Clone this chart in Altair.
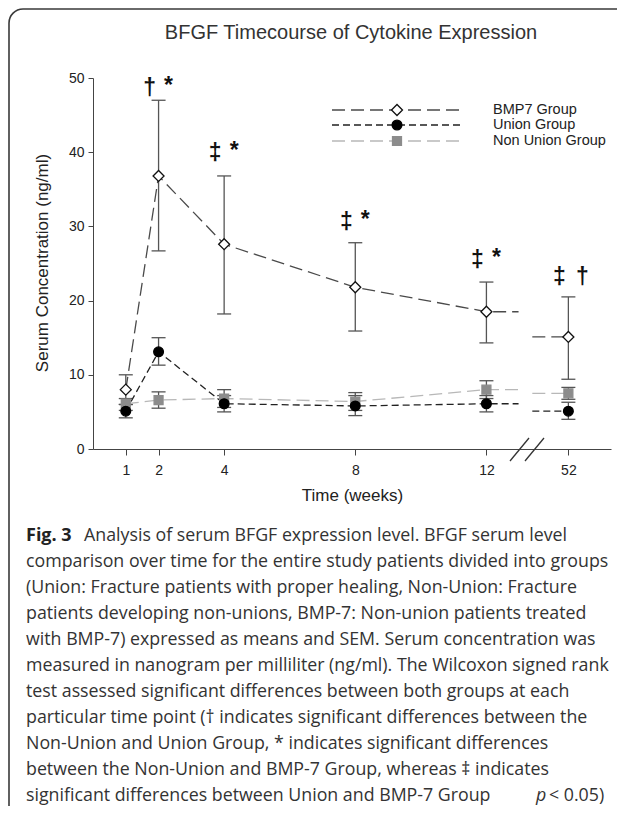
import altair as alt
import pandas as pd

# ---------------- data ----------------
weeks = [1, 2, 4, 8, 12, 52]
axis_pos = [1, 2, 4, 8, 12, 14.5]          # position on the broken time axis
tick_labels = ["1", "2", "4", "8", "12", "52"]
groups = ["BMP7 Group", "Union Group", "Non Union Group"]

bmp7_mean = [8.0, 36.8, 27.6, 21.8, 18.5, 15.1]
bmp7_low = [6.0, 26.7, 18.2, 15.9, 14.3, 9.4]
bmp7_high = [10.0, 47.0, 36.8, 27.8, 22.5, 20.5]

union_mean = [5.1, 13.1, 6.1, 5.8, 6.1, 5.1]
union_low = [4.2, 11.3, 5.0, 4.5, 5.0, 4.0]
union_high = [6.0, 15.0, 7.2, 7.2, 7.2, 6.3]

nonunion_mean = [6.1, 6.6, 6.8, 6.4, 8.0, 7.5]
nonunion_low = [5.2, 5.5, 5.6, 5.2, 6.8, 6.7]
nonunion_high = [6.8, 7.7, 8.0, 7.6, 9.2, 8.3]

ann_pos = [2, 4, 8, 12, 14.5]
ann_y = [48.7, 39.9, 30.6, 25.5, 23.2]
ann_first = ["†", "‡", "‡", "‡", "‡"]
ann_second = ["*", "*", "*", "*", "†"]

title_text = "BFGF Timecourse of Cytokine Expression"
x_title = "Time (weeks)"
y_title = "Serum Concentration (ng/ml)"

caption_label = "Fig. 3"
caption_first = "Analysis of serum BFGF expression level. BFGF serum level"
caption_lines = [
    "comparison over time for the entire study patients divided into groups",
    "(Union: Fracture patients with proper healing, Non-Union: Fracture",
    "patients developing non-unions, BMP-7: Non-union patients treated",
    "with BMP-7) expressed as means and SEM. Serum concentration was",
    "measured in nanogram per milliliter (ng/ml). The Wilcoxon signed rank",
    "test assessed significant differences between both groups at each",
    "particular time point († indicates significant differences between the",
    "Non-Union and Union Group, * indicates significant differences",
    "between the Non-Union and BMP-7 Group, whereas ‡ indicates",
]
caption_last = "significant differences between Union and BMP-7 Group"
caption_p = "p"
caption_tail = "< 0.05)"

STUB_END = 12.98
STUB_START = 13.4

series = {
    groups[0]: (bmp7_mean, bmp7_low, bmp7_high),
    groups[1]: (union_mean, union_low, union_high),
    groups[2]: (nonunion_mean, nonunion_low, nonunion_high),
}
styles = {
    groups[0]: dict(line="#4a4a4a", dash=[13, 6], shape="diamond", fill="white", stroke="#111", size=120),
    groups[1]: dict(line="#222222", dash=[7, 4], shape="circle", fill="#000", stroke="#000", size=95),
    groups[2]: dict(line="#b8b8b8", dash=[13, 6], shape="square", fill="#8c8c8c", stroke="#8c8c8c", size=80),
}

rows, line_rows = [], []
for g, (m, lo, hi) in series.items():
    for w, p, mv, l, h in zip(weeks, axis_pos, m, lo, hi):
        rows.append(dict(group=g, week=w, pos=p, mean=mv, low=l, high=h))
    i = 0
    for p, mv in zip(axis_pos[:5], m[:5]):
        line_rows.append(dict(group=g, seg="a", idx=i, pos=p, val=mv)); i += 1
    line_rows.append(dict(group=g, seg="a", idx=i, pos=STUB_END, val=m[4])); i += 1
    line_rows.append(dict(group=g, seg="b", idx=i, pos=STUB_START, val=m[5])); i += 1
    line_rows.append(dict(group=g, seg="b", idx=i, pos=axis_pos[5], val=m[5]))
df = pd.DataFrame(rows)
df_line = pd.DataFrame(line_rows)
df_ann = pd.DataFrame(dict(pos=ann_pos, y=ann_y, first=ann_first, second=ann_second))

# ---------------- scales / axes ----------------
FONT = "Liberation Sans"
xscale = alt.Scale(domain=[0, 15.8], nice=False, zero=False)
yscale = alt.Scale(domain=[0, 50], nice=False)

label_expr = "''"
for p, l in zip(axis_pos, tick_labels):
    label_expr = f"datum.value == {p} ? '{l}' : ({label_expr})"

xaxis = alt.Axis(values=axis_pos, labelExpr=label_expr, grid=False, tickSize=6,
                 labelPadding=8, labelFontSize=14, labelFont=FONT, labelColor="#222",
                 domainColor="#444", tickColor="#444", titleFont=FONT, titleFontSize=17,
                 titleFontWeight="normal", titleColor="#222", titlePadding=10, labelFlush=False)
yaxis = alt.Axis(values=[0, 10, 20, 30, 40, 50], grid=False, tickSize=5, labelPadding=4,
                 labelFontSize=14, labelFont=FONT, labelColor="#222",
                 domainColor="#444", tickColor="#444")


def X(field):
    return alt.X(field, type="quantitative", scale=xscale, axis=xaxis, title=x_title)


def Y(field):
    return alt.Y(field, type="quantitative", scale=yscale, axis=yaxis, title=None)


layers = []
one = pd.DataFrame({"k": [0]})

# frame
layers.append(alt.Chart(one).mark_rect(fill="white", fillOpacity=0, stroke="#3a3a3a",
                                       strokeWidth=1.6, cornerRadius=14)
              .encode(x=alt.value(-84), x2=alt.value(640), y=alt.value(-69), y2=alt.value(745)))

# error bars
for g in groups:
    d = df[df.group == g]
    layers.append(alt.Chart(d).mark_rule(color="#555", strokeWidth=1.3)
                  .encode(x=X("pos"), y=Y("low"), y2="high"))
    for f in ["low", "high"]:
        layers.append(alt.Chart(d).mark_rule(color="#555", strokeWidth=1.3, xOffset=-7, x2Offset=7)
                      .encode(x=X("pos"), x2="pos", y=Y(f)))

# lines
for g in reversed(groups):
    st = styles[g]
    layers.append(alt.Chart(df_line[df_line.group == g])
                  .mark_line(color=st["line"], strokeDash=st["dash"], strokeWidth=1.3)
                  .encode(x=X("pos"), y=Y("val"), detail="seg:N", order="idx:Q"))

# markers
for g in reversed(groups):
    st = styles[g]
    layers.append(alt.Chart(df[df.group == g])
                  .mark_point(shape=st["shape"], filled=True, fill=st["fill"], stroke=st["stroke"],
                              strokeWidth=1.3, size=st["size"], opacity=1)
                  .encode(x=X("pos"), y=Y("mean")))

# significance annotations
layers.append(alt.Chart(df_ann).mark_text(font=FONT, fontSize=23, fontWeight="bold", color="#111", dx=-9)
              .encode(x=X("pos"), y=Y("y"), text="first:N"))
layers.append(alt.Chart(df_ann).transform_filter("datum.second == '*'")
              .mark_text(font=FONT, fontSize=23, fontWeight="bold", color="#111", dx=10, dy=-2)
              .encode(x=X("pos"), y=Y("y"), text="second:N"))
layers.append(alt.Chart(df_ann).transform_filter("datum.second != '*'")
              .mark_text(font=FONT, fontSize=23, fontWeight="bold", color="#111", dx=14)
              .encode(x=X("pos"), y=Y("y"), text="second:N"))

# break marks on the time axis
for x0 in [417, 432]:
    layers.append(alt.Chart(one).mark_rule(color="#333", strokeWidth=1.3)
                  .encode(x=alt.value(x0), x2=alt.value(x0 + 19), y=alt.value(383), y2=alt.value(360)))

# legend
leg_y = [32, 47, 63]
for g, ly in zip(groups, leg_y):
    st = styles[g]
    layers.append(alt.Chart(one).mark_rule(color=st["line"], strokeDash=st["dash"], strokeWidth=1.3)
                  .encode(x=alt.value(239), x2=alt.value(367), y=alt.value(ly)))
    layers.append(alt.Chart(one).mark_point(shape=st["shape"], filled=True, fill=st["fill"],
                                            stroke=st["stroke"], strokeWidth=1.3, size=st["size"], opacity=1)
                  .encode(x=alt.value(304), y=alt.value(ly)))
    layers.append(alt.Chart(pd.DataFrame({"label": [g]}))
                  .mark_text(font=FONT, fontSize=14.5, color="#222", align="left", baseline="middle")
                  .encode(x=alt.value(400), y=alt.value(ly), text="label:N"))

# title and axis title
layers.append(alt.Chart(pd.DataFrame({"t": [title_text]}))
              .mark_text(font=FONT, fontSize=20, color="#333", align="center", baseline="middle")
              .encode(x=alt.value(258), y=alt.value(-45), text="t:N"))
layers.append(alt.Chart(pd.DataFrame({"t": [y_title]}))
              .mark_text(font=FONT, fontSize=17, color="#222", align="center", baseline="middle", angle=270)
              .encode(x=alt.value(-50), y=alt.value(185), text="t:N"))

# caption
CAP_FONT = "Open Sans"
CAP_SIZE = 17.8
CAP_X = -67
CAP_Y0 = 458
CAP_DY = 26
layers.append(alt.Chart(pd.DataFrame({"t": [caption_label]}))
              .mark_text(font=CAP_FONT, fontSize=18, fontWeight="bold", color="#222", align="left", baseline="middle")
              .encode(x=alt.value(CAP_X), y=alt.value(CAP_Y0), text="t:N"))
layers.append(alt.Chart(pd.DataFrame({"t": [caption_first]}))
              .mark_text(font=CAP_FONT, fontSize=CAP_SIZE, color="#333", align="left", baseline="middle")
              .encode(x=alt.value(-9), y=alt.value(CAP_Y0), text="t:N"))
cap_df = pd.DataFrame({"t": caption_lines, "row": list(range(1, len(caption_lines) + 1))})
cap_df["py"] = CAP_Y0 + CAP_DY * cap_df["row"]
layers.append(alt.Chart(cap_df)
              .mark_text(font=CAP_FONT, fontSize=CAP_SIZE, color="#333", align="left", baseline="middle")
              .encode(x=alt.value(CAP_X), y=alt.Y("py:Q", scale=None, axis=None), text="t:N"))
last_y = CAP_Y0 + CAP_DY * (len(caption_lines) + 1)
layers.append(alt.Chart(pd.DataFrame({"t": [caption_last]}))
              .mark_text(font=CAP_FONT, fontSize=CAP_SIZE, color="#333", align="left", baseline="middle")
              .encode(x=alt.value(CAP_X), y=alt.value(last_y), text="t:N"))
layers.append(alt.Chart(pd.DataFrame({"t": [caption_p]}))
              .mark_text(font=CAP_FONT, fontSize=CAP_SIZE, fontStyle="italic", color="#333", align="left", baseline="middle")
              .encode(x=alt.value(443), y=alt.value(last_y), text="t:N"))
layers.append(alt.Chart(pd.DataFrame({"t": [caption_tail]}))
              .mark_text(font=CAP_FONT, fontSize=CAP_SIZE, color="#333", align="left", baseline="middle")
              .encode(x=alt.value(456), y=alt.value(last_y), text="t:N"))

chart = (alt.layer(*layers)
         .properties(width=518, height=371,
                     autosize=alt.AutoSizeParams(type="none"),
                     padding={"left": 85, "top": 70, "right": 6, "bottom": 357},
                     background="white")
         .configure_view(stroke=None))

chart.save("out.html", embed_options={"renderer": "svg", "actions": False})
